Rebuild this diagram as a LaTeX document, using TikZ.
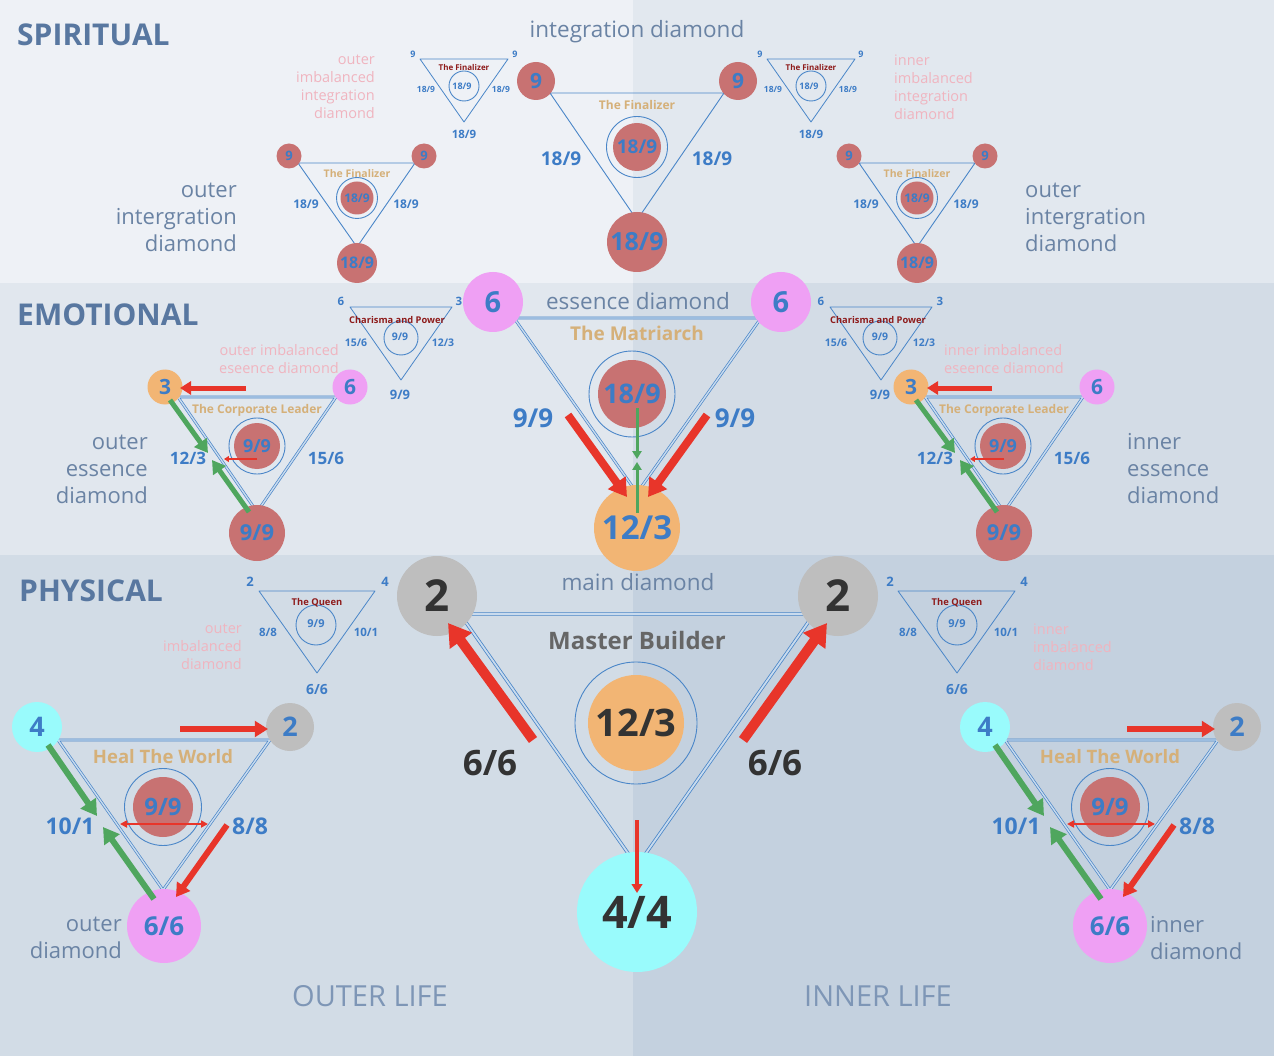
\documentclass[tikz,border=0pt]{standalone}
\usepackage{fontspec}
\setmainfont{Open Sans}
\usetikzlibrary{arrows.meta}
\definecolor{bgSL}{HTML}{EEF1F6}
\definecolor{bgSR}{HTML}{E2E8EF}
\definecolor{bgEL}{HTML}{E1E7EE}
\definecolor{bgER}{HTML}{D3DCE6}
\definecolor{bgPL}{HTML}{D2DCE6}
\definecolor{bgPR}{HTML}{C4D1DF}
\definecolor{lineblue}{HTML}{4A86C8}
\definecolor{numblue}{HTML}{3D7CC6}
\definecolor{redc}{HTML}{C87272}
\definecolor{orangec}{HTML}{F2B574}
\definecolor{pinkc}{HTML}{EFA0F4}
\definecolor{cyanc}{HTML}{99FBFC}
\definecolor{grayc}{HTML}{BEBEBE}
\definecolor{goldt}{HTML}{D5B079}
\definecolor{darkredt}{HTML}{8E1B1B}
\definecolor{slatet}{HTML}{6A83A4}
\definecolor{titlet}{HTML}{5877A0}
\definecolor{lifet}{HTML}{7E96B6}
\definecolor{pinkt}{HTML}{F0B4BF}
\definecolor{arrred}{HTML}{E8352A}
\definecolor{arrgreen}{HTML}{4FA65E}
\definecolor{darkt}{HTML}{333333}
\newcommand\myfs[1]{\fontsize{#1}{#1}\selectfont}
\tikzset{
  tri/.style={draw=lineblue, line width=0.9pt, line join=round},
  dtri/.style={draw=lineblue, line width=0.7pt, double=lineblue!30, double distance=1.4pt, line join=round},
  ring/.style={circle, draw=lineblue, line width=0.9pt, inner sep=0pt, minimum size=#1},
  dot/.style 2 args={circle, fill=#1, inner sep=0pt, minimum size=#2},
  bnum/.style={text=numblue, font=\bfseries\myfs{#1}, inner sep=0pt},
  dnum/.style={text=darkt, font=\bfseries\myfs{#1}, inner sep=0pt},
  goldlbl/.style={text=goldt, font=\bfseries\myfs{#1}, inner sep=0pt},
  redlbl/.style={text=darkredt, font=\bfseries\myfs{#1}, inner sep=0pt},
  slatelbl/.style={text=slatet, font=\myfs{22.5}, inner sep=0pt},
  slatemulti/.style={text=slatet, font={\fontsize{22}{27}\selectfont}, inner sep=0pt},
  pinkmulti/.style={text=pinkt, font={\fontsize{14.5}{18}\selectfont}, inner sep=0pt},
  titlelbl/.style={text=titlet, font=\bfseries\myfs{30}, inner sep=0pt, anchor=west},
  lifelbl/.style={text=lifet, font=\myfs{29}, inner sep=0pt},
  redarrow/.style={draw=arrred, line width=#1, -{Triangle[length=2.2*#1, width=2.6*#1]}},
  greenarrow/.style={draw=arrgreen, line width=#1, -{Triangle[length=2.6*#1, width=3*#1]}},
}
\begin{document}
\begin{tikzpicture}[x=1pt, y=-1pt]
\useasboundingbox (0,0) rectangle (1274,1056);
% backgrounds
\fill[bgSL] (0,0) rectangle (633,283);
\fill[bgSR] (633,0) rectangle (1274,283);
\fill[bgEL] (0,283) rectangle (633,555);
\fill[bgER] (633,283) rectangle (1274,555);
\fill[bgPL] (0,555) rectangle (633,1056);
\fill[bgPR] (633,555) rectangle (1274,1056);

% section titles
\node[titlelbl] (tSpir) at (17,35) {SPIRITUAL};
\node[titlelbl] (tEmo) at (17,315) {EMOTIONAL};
\node[titlelbl] (tPhys) at (19,591) {PHYSICAL};
\node[lifelbl] (tOuter) at (370,996) {OUTER LIFE};
\node[lifelbl] (tInner) at (878,996) {INNER LIFE};

%================ SPIRITUAL =================
% centre integration diamond
\coordinate (sA) at (550,93); \coordinate (sB) at (724,93); \coordinate (sC) at (637,220);
\draw[tri] (sA) -- (sB) -- (sC) -- cycle;
\node[ring=61] (sRing) at (637,147) {};
\node[dot={redc}{48}, bnum=19] (sIn) at (637,147) {18/9};
\node[dot={redc}{38}, bnum=21] (s9L) at (536,81) {9};
\node[dot={redc}{38}, bnum=21] (s9R) at (738,81) {9};
\node[dot={redc}{60}, bnum=25] (sBot) at (637,242) {18/9};
\node[goldlbl=12] (sName) at (637,105) {The Finalizer};
\node[bnum=19] (sLl) at (561,159) {18/9};
\node[bnum=19] (sLr) at (712,159) {18/9};
\node[slatelbl] (sTitle) at (637,32) {integration diamond};

% left outer integration diamond
\coordinate (soA) at (298,163); \coordinate (soB) at (415,163); \coordinate (soC) at (357,247);
\draw[tri] (soA) -- (soB) -- (soC) -- cycle;
\node[ring=41] (soRing) at (357,198) {};
\node[dot={redc}{33}, bnum=12] (soIn) at (357,198) {18/9};
\node[dot={redc}{25}, bnum=13] (so9L) at (289,156) {9};
\node[dot={redc}{25}, bnum=13] (so9R) at (424,156) {9};
\node[dot={redc}{40}, bnum=16] (soBot) at (357,263) {18/9};
\node[goldlbl=10.5] (soName) at (357,174) {The Finalizer};
\node[bnum=12] (soLl) at (306,204) {18/9};
\node[bnum=12] (soLr) at (406,204) {18/9};
\node[slatemulti, anchor=east, align=right] (soTxt) at (237,217) {outer\\intergration\\diamond};

% right outer integration diamond
\coordinate (siA) at (859,163); \coordinate (siB) at (975,163); \coordinate (siC) at (917,247);
\draw[tri] (siA) -- (siB) -- (siC) -- cycle;
\node[ring=41] (siRing) at (917,198) {};
\node[dot={redc}{33}, bnum=12] (siIn) at (917,198) {18/9};
\node[dot={redc}{25}, bnum=13] (si9L) at (849,156) {9};
\node[dot={redc}{25}, bnum=13] (si9R) at (985,156) {9};
\node[dot={redc}{40}, bnum=16] (siBot) at (917,263) {18/9};
\node[goldlbl=10.5] (siName) at (917,174) {The Finalizer};
\node[bnum=12] (siLl) at (866,204) {18/9};
\node[bnum=12] (siLr) at (966,204) {18/9};
\node[slatemulti, anchor=west, align=left] (siTxt) at (1025,217) {outer\\intergration\\diamond};

% small imbalanced integration (left)
\coordinate (smA) at (420,59); \coordinate (smB) at (508,59); \coordinate (smC) at (464,122);
\draw[tri, line width=0.8pt] (smA) -- (smB) -- (smC) -- cycle;
\node[ring=30] (smRing) at (464,86) {};
\node[bnum=9] (smIn) at (462,86) {18/9};
\node[redlbl=8] (smName) at (464,68) {The Finalizer};
\node[bnum=9] (sm9L) at (413,54) {9};
\node[bnum=9] (sm9R) at (515,54) {9};
\node[bnum=8.5] (smLl) at (426,89) {18/9};
\node[bnum=8.5] (smLr) at (501,89) {18/9};
\node[bnum=11.5] (smBot) at (464,134) {18/9};
\node[pinkmulti, anchor=east, align=right] (smTxt) at (375,87) {outer\\imbalanced\\integration\\diamond};

% small imbalanced integration (right)
\coordinate (snA) at (767,59); \coordinate (snB) at (855,59); \coordinate (snC) at (811,122);
\draw[tri, line width=0.8pt] (snA) -- (snB) -- (snC) -- cycle;
\node[ring=30] (snRing) at (811,86) {};
\node[bnum=9] (snIn) at (809,86) {18/9};
\node[redlbl=8] (snName) at (811,68) {The Finalizer};
\node[bnum=9] (sn9L) at (760,54) {9};
\node[bnum=9] (sn9R) at (861,54) {9};
\node[bnum=8.5] (snLl) at (773,89) {18/9};
\node[bnum=8.5] (snLr) at (848,89) {18/9};
\node[bnum=11.5] (snBot) at (811,134) {18/9};
\node[pinkmulti, anchor=west, align=left] (snTxt) at (894,87) {inner\\imbalanced\\integration\\diamond};

%================ EMOTIONAL =================
% centre essence diamond
\coordinate (eA) at (514,318); \coordinate (eB) at (761,318); \coordinate (eC) at (637,493);
\draw[dtri] (eA) -- (eB) -- (eC) -- cycle;
\node[ring=86] (eRing) at (632,394) {};
\node[dot={redc}{68}, bnum=27] (eIn) at (632,394) {18/9};
\node[dot={pinkc}{60}, bnum=29] (e6L) at (493,302) {6};
\node[dot={pinkc}{60}, bnum=29] (e6R) at (781,302) {6};
\node[dot={orangec}{86}, bnum=33] (eBot) at (637,528) {12/3};
\node[goldlbl=19] (eName) at (637,333) {The Matriarch};
\node[bnum=26] (eLl) at (533,418) {9/9};
\node[bnum=26] (eLr) at (735,418) {9/9};
\node[slatelbl] (eTitle) at (638,301) {essence diamond};

% left outer essence diamond
\coordinate (eoA) at (178,397); \coordinate (eoB) at (336,397); \coordinate (eoC) at (257,512);
\draw[dtri] (eoA) -- (eoB) -- (eoC) -- cycle;
\node[ring=56] (eoRing) at (257,446) {};
\node[dot={redc}{46}, bnum=18] (eoIn) at (257,446) {9/9};
\node[dot={orangec}{35}, bnum=21] (eo3) at (165,387) {3};
\node[dot={pinkc}{35}, bnum=21] (eo6) at (350,387) {6};
\node[dot={redc}{56}, bnum=22] (eoBot) at (257,533) {9/9};
\node[goldlbl=12] (eoName) at (257,410) {The Corporate Leader};
\node[bnum=17] (eoLl) at (188,458) {12/3};
\node[bnum=17] (eoLr) at (326,458) {15/6};
\node[slatemulti, anchor=east, align=right] (eoTxt) at (148,469) {outer\\essence\\diamond};
\node[pinkmulti, anchor=east, align=right] (eoPink) at (339,359) {outer imbalanced\\eseence diamond};

% left small charisma
\coordinate (ecA) at (350,307); \coordinate (ecB) at (452,307); \coordinate (ecC) at (401,380);
\draw[tri, line width=0.8pt] (ecA) -- (ecB) -- (ecC) -- cycle;
\node[ring=34] (ecRing) at (401,338) {};
\node[bnum=10.5] (ecIn) at (400,337) {9/9};
\node[redlbl=9.3] (ecName) at (397,320) {Charisma and Power};
\node[bnum=11.5] (ec6) at (341,301) {6};
\node[bnum=11.5] (ec3) at (459,301) {3};
\node[bnum=10.5] (ecLl) at (356,343) {15/6};
\node[bnum=10.5] (ecLr) at (443,343) {12/3};
\node[bnum=13] (ecBot) at (400,395) {9/9};

% right inner essence diamond
\coordinate (eiA) at (925,397); \coordinate (eiB) at (1083,397); \coordinate (eiC) at (1004,512);
\draw[dtri] (eiA) -- (eiB) -- (eiC) -- cycle;
\node[ring=56] (eiRing) at (1003,446) {};
\node[dot={redc}{46}, bnum=18] (eiIn) at (1003,446) {9/9};
\node[dot={orangec}{35}, bnum=21] (ei3) at (911,387) {3};
\node[dot={pinkc}{35}, bnum=21] (ei6) at (1097,387) {6};
\node[dot={redc}{56}, bnum=22] (eiBot) at (1004,533) {9/9};
\node[goldlbl=12] (eiName) at (1004,410) {The Corporate Leader};
\node[bnum=17] (eiLl) at (935,458) {12/3};
\node[bnum=17] (eiLr) at (1072,458) {15/6};
\node[slatemulti, anchor=west, align=left] (eiTxt) at (1127,469) {inner\\essence\\diamond};
\node[pinkmulti, anchor=west, align=left] (eiPink) at (944,359) {inner imbalanced\\eseence diamond};

% right small charisma
\coordinate (edA) at (830,307); \coordinate (edB) at (932,307); \coordinate (edC) at (881,380);
\draw[tri, line width=0.8pt] (edA) -- (edB) -- (edC) -- cycle;
\node[ring=34] (edRing) at (880,338) {};
\node[bnum=10.5] (edIn) at (880,337) {9/9};
\node[redlbl=9.3] (edName) at (878,320) {Charisma and Power};
\node[bnum=11.5] (ed6) at (821,301) {6};
\node[bnum=11.5] (ed3) at (940,301) {3};
\node[bnum=10.5] (edLl) at (836,343) {15/6};
\node[bnum=10.5] (edLr) at (924,343) {12/3};
\node[bnum=13] (edBot) at (880,395) {9/9};

%================ PHYSICAL =================
% main diamond
\coordinate (pA) at (460,614); \coordinate (pB) at (814,614); \coordinate (pC) at (637,866);
\draw[dtri, line width=0.8pt, double distance=1.8pt] (pA) -- (pB) -- (pC) -- cycle;
\node[ring=122] (pRing) at (636,723) {};
\node[dot={orangec}{96}, dnum=38] (pIn) at (636,723) {12/3};
\node[dot={grayc}{80}, dnum=44] (p2L) at (437,596) {2};
\node[dot={grayc}{80}, dnum=44] (p2R) at (838,596) {2};
\node[dot={cyanc}{120}, dnum=45] (pBot) at (637,912) {4/4};
\node[text=darkt!75, font=\bfseries\myfs{24}, inner sep=0pt] (pName) at (637,640) {Master Builder};
\node[dnum=35] (pLl) at (490,763) {6/6};
\node[dnum=35] (pLr) at (775,763) {6/6};
\node[slatelbl] (pTitle) at (638,582) {main diamond};

% left outer diamond
\coordinate (poA) at (58,740); \coordinate (poB) at (270,740); \coordinate (poC) at (163,890);
\draw[dtri] (poA) -- (poB) -- (poC) -- cycle;
\node[ring=77] (poRing) at (163,807) {};
\node[dot={redc}{60}, bnum=24] (poIn) at (163,807) {9/9};
\node[dot={cyanc}{50}, bnum=27] (po4) at (37,727) {4};
\node[dot={grayc}{48}, bnum=27] (po2) at (290,727) {2};
\node[dot={pinkc}{74}, bnum=26] (poBot) at (164,926) {6/6};
\node[goldlbl=18.5] (poName) at (163,757) {Heal The World};
\node[bnum=23] (poLl) at (70,826) {10/1};
\node[bnum=23] (poLr) at (250,826) {8/8};
\node[slatemulti, anchor=east, align=right] (poTxt) at (122,938) {outer\\diamond};

% left small queen
\coordinate (pqA) at (259,591); \coordinate (pqB) at (375,591); \coordinate (pqC) at (317,673);
\draw[tri, line width=0.8pt] (pqA) -- (pqB) -- (pqC) -- cycle;
\node[ring=40] (pqRing) at (316,625) {};
\node[bnum=11] (pqIn) at (316,624) {9/9};
\node[redlbl=9.4] (pqName) at (317,603) {The Queen};
\node[bnum=13] (pq2) at (250,582) {2};
\node[bnum=13] (pq4) at (385,582) {4};
\node[bnum=11.5] (pqLl) at (268,632) {8/8};
\node[bnum=11.5] (pqLr) at (366,632) {10/1};
\node[bnum=14] (pqBot) at (317,690) {6/6};
\node[pinkmulti, anchor=east, align=right] (pqPink) at (242,647) {outer\\imbalanced\\diamond};

% right inner diamond
\coordinate (piA) at (1005,740); \coordinate (piB) at (1218,740); \coordinate (piC) at (1110,890);
\draw[dtri] (piA) -- (piB) -- (piC) -- cycle;
\node[ring=77] (piRing) at (1110,807) {};
\node[dot={redc}{60}, bnum=24] (piIn) at (1110,807) {9/9};
\node[dot={cyanc}{50}, bnum=27] (pi4) at (985,727) {4};
\node[dot={grayc}{48}, bnum=27] (pi2) at (1237,727) {2};
\node[dot={pinkc}{74}, bnum=26] (piBot) at (1110,926) {6/6};
\node[goldlbl=18.5] (piName) at (1110,757) {Heal The World};
\node[bnum=23] (piLl) at (1016,826) {10/1};
\node[bnum=23] (piLr) at (1197,826) {8/8};
\node[slatemulti, anchor=west, align=left] (piTxt) at (1150,938) {inner\\diamond};

% right small queen
\coordinate (prA) at (898,591); \coordinate (prB) at (1015,591); \coordinate (prC) at (957,673);
\draw[tri, line width=0.8pt] (prA) -- (prB) -- (prC) -- cycle;
\node[ring=40] (prRing) at (957,625) {};
\node[bnum=11] (prIn) at (957,624) {9/9};
\node[redlbl=9.4] (prName) at (957,603) {The Queen};
\node[bnum=13] (pr2) at (890,582) {2};
\node[bnum=13] (pr4) at (1024,582) {4};
\node[bnum=11.5] (prLl) at (908,632) {8/8};
\node[bnum=11.5] (prLr) at (1006,632) {10/1};
\node[bnum=14] (prBot) at (957,690) {6/6};
\node[pinkmulti, anchor=west, align=left] (prPink) at (1033,647) {inner\\imbalanced\\diamond};

%================ ARROWS =================
% emotional centre
\coordinate (ea1s) at (568,415); \coordinate (ea1e) at (627,497);
\coordinate (ea2s) at (707,415); \coordinate (ea2e) at (648,497);
\draw[redarrow=8pt] (ea1s) -- (ea1e);
\draw[redarrow=8pt] (ea2s) -- (ea2e);
\coordinate (eg1s) at (637,408); \coordinate (eg1e) at (637,459);
\coordinate (eg2s) at (637,513); \coordinate (eg2e) at (637,462);
\draw[greenarrow=3pt] (eg1s) -- (eg1e);
\draw[greenarrow=3pt] (eg2s) -- (eg2e);

% emotional left
\coordinate (eor1s) at (246,388); \coordinate (eor1e) at (180,388);
\draw[redarrow=5pt] (eor1s) -- (eor1e);
\coordinate (eog1s) at (170,400); \coordinate (eog1e) at (208,453);
\coordinate (eog2s) at (249,512); \coordinate (eog2e) at (212,460);
\draw[greenarrow=5pt] (eog1s) -- (eog1e);
\draw[greenarrow=5pt] (eog2s) -- (eog2e);
\coordinate (eor2s) at (257,459); \coordinate (eor2e) at (224,459);
\draw[redarrow=2.2pt] (eor2s) -- (eor2e);

% emotional right
\coordinate (eir1s) at (992,388); \coordinate (eir1e) at (927,388);
\draw[redarrow=5pt] (eir1s) -- (eir1e);
\coordinate (eig1s) at (916,400); \coordinate (eig1e) at (955,453);
\coordinate (eig2s) at (997,512); \coordinate (eig2e) at (960,460);
\draw[greenarrow=5pt] (eig1s) -- (eig1e);
\draw[greenarrow=5pt] (eig2s) -- (eig2e);
\coordinate (eir2s) at (1004,459); \coordinate (eir2e) at (970,459);
\draw[redarrow=2.2pt] (eir2s) -- (eir2e);

% physical main
\coordinate (pa1s) at (533,740); \coordinate (pa1e) at (448,623);
\coordinate (pa2s) at (743,740); \coordinate (pa2e) at (827,623);
\draw[redarrow=10pt] (pa1s) -- (pa1e);
\draw[redarrow=10pt] (pa2s) -- (pa2e);
\coordinate (pa3s) at (637,820); \coordinate (pa3e) at (637,893);
\draw[redarrow=4pt] (pa3s) -- (pa3e);

% physical left
\coordinate (por1s) at (180,729); \coordinate (por1e) at (268,729);
\draw[redarrow=6pt] (por1s) -- (por1e);
\coordinate (pog1s) at (48,745); \coordinate (pog1e) at (97,816);
\coordinate (pog2s) at (154,899); \coordinate (pog2e) at (103,827);
\draw[greenarrow=6pt] (pog1s) -- (pog1e);
\draw[greenarrow=6pt] (pog2s) -- (pog2e);
\coordinate (por2s) at (227,825); \coordinate (por2e) at (176,897);
\draw[redarrow=6pt] (por2s) -- (por2e);
\coordinate (por3s) at (120,824); \coordinate (por3e) at (208,824);
\draw[draw=arrred, line width=2pt, {Triangle[length=7pt, width=7pt]}-{Triangle[length=7pt, width=7pt]}] (por3s) -- (por3e);

% physical right
\coordinate (pir1s) at (1127,729); \coordinate (pir1e) at (1215,729);
\draw[redarrow=6pt] (pir1s) -- (pir1e);
\coordinate (pig1s) at (995,745); \coordinate (pig1e) at (1044,816);
\coordinate (pig2s) at (1101,899); \coordinate (pig2e) at (1050,827);
\draw[greenarrow=6pt] (pig1s) -- (pig1e);
\draw[greenarrow=6pt] (pig2s) -- (pig2e);
\coordinate (pir2s) at (1174,825); \coordinate (pir2e) at (1123,897);
\draw[redarrow=6pt] (pir2s) -- (pir2e);
\coordinate (pir3s) at (1067,824); \coordinate (pir3e) at (1155,824);
\draw[draw=arrred, line width=2pt, {Triangle[length=7pt, width=7pt]}-{Triangle[length=7pt, width=7pt]}] (pir3s) -- (pir3e);
\end{tikzpicture}
\end{document}
